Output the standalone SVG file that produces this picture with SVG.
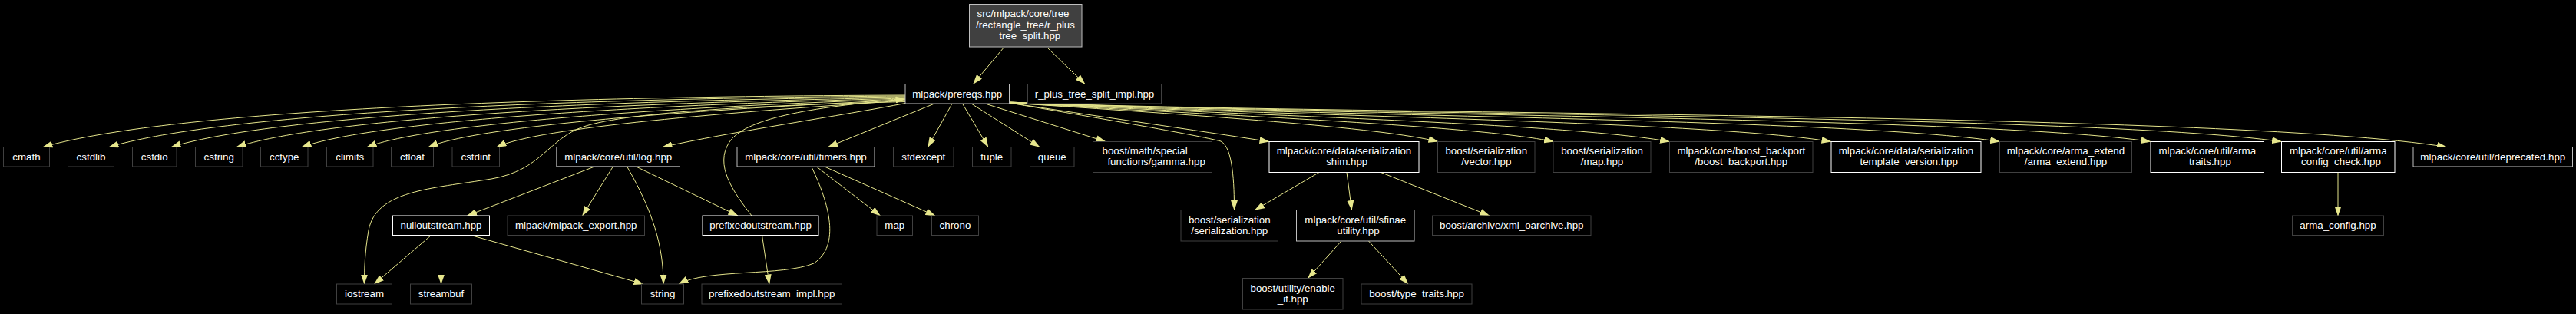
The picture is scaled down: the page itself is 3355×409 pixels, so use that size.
<svg xmlns="http://www.w3.org/2000/svg" width="3355" height="409" viewBox="0 0 3355 409">
<style>
.bg{fill:#000}
.n rect{fill:#000;stroke:#404040;stroke-width:1}
.n.l rect{stroke:#ffffff}
.n.g rect{stroke:#bfbfbf}
.n.r rect{fill:#404040;stroke:#bfbfbf}
.n text{font-family:"Liberation Sans",Arial,Helvetica,sans-serif;font-size:13.33px;fill:#fff;text-anchor:middle}
.n text.s{text-anchor:start}
.e path{fill:none;stroke:#e6e68c;stroke-width:1;marker-end:url(#ah)}
</style>
<defs>
<marker id="ah" markerWidth="13" markerHeight="9" viewBox="0 0 13 9" refX="12.5" refY="4.5" orient="auto" markerUnits="userSpaceOnUse">
<path d="M0,0 L13,4.5 L0,9 z" fill="#e6e68c"/>
</marker>
</defs>
<rect class="bg" x="0" y="0" width="3355" height="409"/>

<g id="edges" class="e">
<path d="M1308,61 L1267.5,109.5"/>
<path d="M1363,61 L1413,109.5"/>
<path d="M1179,124 C600,126 200,150 56,191.5"/>
<path d="M1179,125 C650,128.9 273,152.3 142,191.5"/>
<path d="M1179,126 C700,131.7 341,154.6 223,191.5"/>
<path d="M1179,127 C750,134.6 413,156.9 308,191.5"/>
<path d="M1179,128 C800,137.4 485,159.2 393,191.5"/>
<path d="M1179,129 C850,140.3 557,161.5 478,191.5"/>
<path d="M1179,130 C900,143.1 624,163.7 558,191.5"/>
<path d="M1179,131 C950,146 700,166 647,191.5"/>
<path d="M1179,132.5 C1000,137 820,145 760,165 C715,180 705,222 640,233 C560,246 490,248 480,300 C475,330 474.5,350 474.5,370"/>
<path d="M1179,134.5 C1100,150 950,172 863,191.5"/>
<path d="M1217,135 L1078.5,191.5"/>
<path d="M1240,135 L1208.5,191.5"/>
<path d="M1253.5,135 L1287,191.5"/>
<path d="M1265,135 L1354,191.5"/>
<path d="M1283,135 L1440,184.5"/>
<path d="M1314.5,134 C1420,152 1560,176 1590,184 C1606,192 1607.5,240 1607.5,273.5"/>
<path d="M1314.5,134 C1420,150 1560,170 1653,184.5"/>
<path d="M1314.5,134 C1560,150 1800,166 1873,184.5"/>
<path d="M1314.5,134 C1580,150 1920.5,163 2023.5,184.5"/>
<path d="M1314.5,133.5 C1600,150 2040.5,160 2174.5,184.5"/>
<path d="M1314.5,133.5 C1620,150 2221,157 2385,184.5"/>
<path d="M1314.5,133.5 C1640,150 2409.5,154 2604.5,184.5"/>
<path d="M1314.5,133 C1660,150 2576,151 2801,184.5"/>
<path d="M1314.5,133 C1680,150 2715.5,148 2971.5,184.5"/>
<path d="M1314.5,133 C1700,150 2900,145 3186.5,191.5"/>
<path d="M979,281 C955,250 930,215 950,185 C970,155 1050,140 1179,129"/>
<path d="M773,217.5 L608.5,281"/>
<path d="M798,217.5 L758.5,281"/>
<path d="M817,217.5 C850,275 864,320 864,370"/>
<path d="M829.5,217.5 L961,281"/>
<path d="M561.5,306.5 L487.5,370"/>
<path d="M574.5,306.5 L574.5,370"/>
<path d="M613.5,306.5 L838,370"/>
<path d="M992.5,306.5 L1002,370"/>
<path d="M1064,217.5 L1146.5,281"/>
<path d="M1075,217.5 L1218,281"/>
<path d="M1057,217.5 C1080,265 1095,320 1060,343 C1020,360 920,350 884,370"/>
<path d="M1718,224.5 L1634.5,273.5"/>
<path d="M1754,224.5 L1760.5,273.5"/>
<path d="M1798.5,224.5 L1940,281"/>
<path d="M1747,314 L1703.5,362.5"/>
<path d="M1782.5,314 L1834,370"/>
<path d="M3045,224.5 L3045,281"/>
</g>

<g id="node_root" class="n r"><rect x="1262.5" y="5.5" width="146.5" height="55.5"/><text x="1332.5" y="22">src/mlpack/core/tree</text><text x="1335.5" y="36.5">/rectangle_tree/r_plus</text><text x="1337.5" y="51">_tree_split.hpp</text></g>
<g id="node_prereqs" class="n g"><rect x="1179" y="109.5" width="135.5" height="25.5"/><text x="1246.75" y="126.5">mlpack/prereqs.hpp</text></g>
<g id="node_rplus_impl" class="n"><rect x="1338.5" y="109.5" width="174" height="25.5"/><text x="1425.5" y="126.5">r_plus_tree_split_impl.hpp</text></g>

<g id="node_cmath" class="n"><rect x="4.5" y="191.5" width="60" height="25.5"/><text x="34.5" y="208.5">cmath</text></g>
<g id="node_cstdlib" class="n"><rect x="88.5" y="191.5" width="60" height="25.5"/><text x="118.5" y="208.5">cstdlib</text></g>
<g id="node_cstdio" class="n"><rect x="172.5" y="191.5" width="57.5" height="25.5"/><text x="201.25" y="208.5">cstdio</text></g>
<g id="node_cstring" class="n"><rect x="254.5" y="191.5" width="61.5" height="25.5"/><text x="285.25" y="208.5">cstring</text></g>
<g id="node_cctype" class="n"><rect x="339.5" y="191.5" width="61.5" height="25.5"/><text x="370.25" y="208.5">cctype</text></g>
<g id="node_climits" class="n"><rect x="425.5" y="191.5" width="60.5" height="25.5"/><text x="455.75" y="208.5">climits</text></g>
<g id="node_cfloat" class="n"><rect x="509.5" y="191.5" width="55" height="25.5"/><text x="537" y="208.5">cfloat</text></g>
<g id="node_cstdint" class="n"><rect x="589" y="191.5" width="61.5" height="25.5"/><text x="619.75" y="208.5">cstdint</text></g>
<g id="node_log" class="n l"><rect x="725" y="191.5" width="160.5" height="25.5"/><text x="805.25" y="208.5">mlpack/core/util/log.hpp</text></g>
<g id="node_timers" class="n g"><rect x="960" y="191.5" width="179" height="25.5"/><text x="1049.5" y="208.5">mlpack/core/util/timers.hpp</text></g>
<g id="node_stdexcept" class="n"><rect x="1163.5" y="191.5" width="78.5" height="25.5"/><text x="1202.75" y="208.5">stdexcept</text></g>
<g id="node_tuple" class="n"><rect x="1266.5" y="191.5" width="50.5" height="25.5"/><text x="1291.75" y="208.5">tuple</text></g>
<g id="node_queue" class="n"><rect x="1341.5" y="191.5" width="57.5" height="25.5"/><text x="1370.25" y="208.5">queue</text></g>
<g id="node_gamma" class="n"><rect x="1423.5" y="184.5" width="155" height="40"/><text class="s" x="1435.5" y="201.3">boost/math/special</text><text class="s" x="1435" y="215.3">_functions/gamma.hpp</text></g>
<g id="node_shim" class="n l"><rect x="1653" y="184.5" width="195" height="40"/><text x="1750.5" y="201.3">mlpack/core/data/serialization</text><text x="1750.5" y="215.3">_shim.hpp</text></g>
<g id="node_vector" class="n"><rect x="1872.5" y="184.5" width="126.5" height="40"/><text x="1935.75" y="201.3">boost/serialization</text><text x="1935.75" y="215.3">/vector.hpp</text></g>
<g id="node_smap" class="n"><rect x="2023" y="184.5" width="127" height="40"/><text x="2086.5" y="201.3">boost/serialization</text><text x="2086.5" y="215.3">/map.hpp</text></g>
<g id="node_backport" class="n"><rect x="2174.5" y="184.5" width="186.5" height="40"/><text x="2267.75" y="201.3">mlpack/core/boost_backport</text><text x="2267.75" y="215.3">/boost_backport.hpp</text></g>
<g id="node_tmplver" class="n l"><rect x="2385" y="184.5" width="195" height="40"/><text x="2482.5" y="201.3">mlpack/core/data/serialization</text><text x="2482.5" y="215.3">_template_version.hpp</text></g>
<g id="node_armaext" class="n"><rect x="2604.5" y="184.5" width="172" height="40"/><text x="2690.5" y="201.3">mlpack/core/arma_extend</text><text x="2690.5" y="215.3">/arma_extend.hpp</text></g>
<g id="node_armatraits" class="n l"><rect x="2801" y="184.5" width="147.5" height="40"/><text x="2874.75" y="201.3">mlpack/core/util/arma</text><text x="2874.75" y="215.3">_traits.hpp</text></g>
<g id="node_armacfgchk" class="n l"><rect x="2971.5" y="184.5" width="147.5" height="40"/><text x="3045.25" y="201.3">mlpack/core/util/arma</text><text x="3045.25" y="215.3">_config_check.hpp</text></g>
<g id="node_deprecated" class="n g"><rect x="3143" y="191.5" width="207.5" height="25.5"/><text x="3246.75" y="208.5">mlpack/core/util/deprecated.hpp</text></g>

<g id="node_nullout" class="n l"><rect x="511.5" y="281" width="126" height="25.5"/><text x="574.5" y="298">nulloutstream.hpp</text></g>
<g id="node_export" class="n"><rect x="661" y="281" width="178.5" height="25.5"/><text x="750.25" y="298">mlpack/mlpack_export.hpp</text></g>
<g id="node_prefixed" class="n l"><rect x="915" y="281" width="151" height="25.5"/><text x="990.5" y="298">prefixedoutstream.hpp</text></g>
<g id="node_map" class="n"><rect x="1142" y="281" width="46.5" height="25.5"/><text x="1165.25" y="298">map</text></g>
<g id="node_chrono" class="n"><rect x="1213.5" y="281" width="61" height="25.5"/><text x="1244" y="298">chrono</text></g>
<g id="node_serialization" class="n"><rect x="1538" y="273.5" width="126.5" height="40.5"/><text x="1601.25" y="290.5">boost/serialization</text><text x="1601.25" y="304.5">/serialization.hpp</text></g>
<g id="node_sfinae" class="n g"><rect x="1688.5" y="273.5" width="153.5" height="40.5"/><text x="1765.25" y="290.5">mlpack/core/util/sfinae</text><text x="1765.25" y="304.5">_utility.hpp</text></g>
<g id="node_xml" class="n"><rect x="1865.5" y="281" width="206.5" height="25.5"/><text x="1968.75" y="298">boost/archive/xml_oarchive.hpp</text></g>
<g id="node_armacfg" class="n"><rect x="2985.5" y="281" width="119" height="25.5"/><text x="3045" y="298">arma_config.hpp</text></g>

<g id="node_iostream" class="n"><rect x="438.5" y="370" width="72" height="26"/><text x="474.5" y="387.3">iostream</text></g>
<g id="node_streambuf" class="n"><rect x="534.5" y="370" width="80" height="26"/><text x="574.5" y="387.3">streambuf</text></g>
<g id="node_string" class="n"><rect x="835.5" y="370" width="55" height="26"/><text x="863" y="387.3">string</text></g>
<g id="node_prefimpl" class="n"><rect x="914" y="370" width="182.5" height="26"/><text x="1005.25" y="387.3">prefixedoutstream_impl.hpp</text></g>
<g id="node_enableif" class="n"><rect x="1618.5" y="362.5" width="130.5" height="40.5"/><text x="1683.75" y="379.5">boost/utility/enable</text><text x="1683.75" y="393.5">_if.hpp</text></g>
<g id="node_typetraits" class="n"><rect x="1773" y="370" width="144" height="26"/><text x="1845" y="387.3">boost/type_traits.hpp</text></g>
</svg>
